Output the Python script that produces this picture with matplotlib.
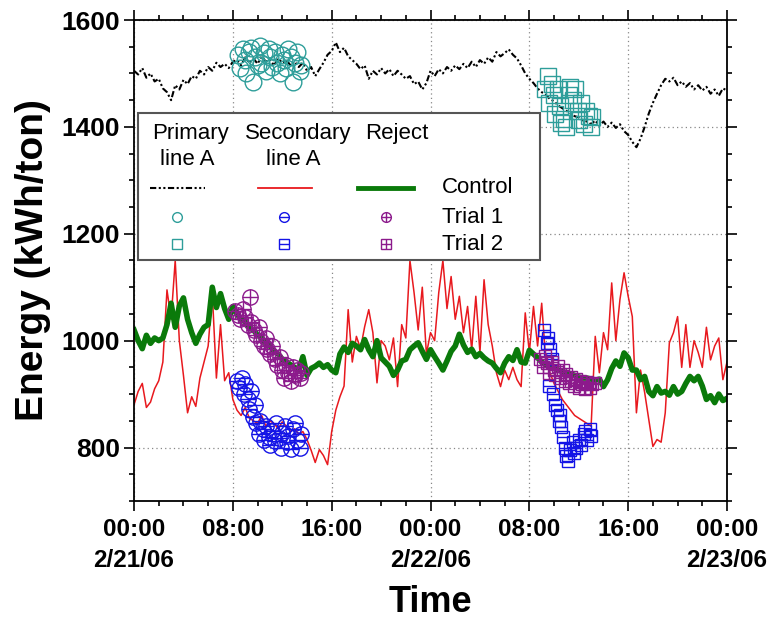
import numpy as np
import matplotlib.pyplot as plt
from matplotlib.patches import Rectangle
from matplotlib.ticker import MultipleLocator

# energy readings every 20 min, 2/21/06 00:00 -> 2/23/06 00:00 (kWh/ton)
primary = [
    1505, 1498, 1510, 1492, 1500, 1485, 1490, 1472, 1465, 1450, 1478, 1470,
    1488, 1480, 1495, 1490, 1505, 1498, 1512, 1505, 1520, 1512, 1518, 1510,
    1522, 1525, 1515, 1530, 1520, 1528, 1518, 1532, 1522, 1526, 1515, 1528,
    1520, 1525, 1515, 1522, 1512, 1520, 1505, 1512, 1495, 1508, 1520, 1535,
    1542, 1558, 1540, 1548, 1532, 1525, 1518, 1508, 1515, 1490, 1505, 1498,
    1510, 1500, 1508, 1495, 1505, 1498, 1490, 1495, 1480, 1485, 1470, 1482,
    1505, 1495, 1508, 1500, 1512, 1505, 1515, 1508, 1518, 1510, 1522, 1512,
    1525, 1518, 1530, 1522, 1540, 1532, 1538, 1545, 1535, 1528, 1515, 1500,
    1490, 1482, 1472, 1465, 1460, 1452, 1448, 1440, 1435, 1430, 1425, 1420,
    1418, 1412, 1410, 1405, 1412, 1402, 1410, 1400, 1408, 1398, 1405, 1392,
    1385, 1372, 1362, 1378, 1400, 1425, 1445, 1462, 1478, 1490, 1485, 1492,
    1478, 1485, 1475, 1482, 1470, 1478, 1468, 1475, 1462, 1470, 1458, 1472,
    1468,
]
secondary = [
    880, 905, 920, 875, 885, 910, 925, 960, 1095, 1040, 1150, 1000,
    935, 865, 895, 877, 930, 960, 990, 1090, 930, 1030, 925, 940,
    890, 870, 860, 875, 855, 850, 845, 860, 840, 850, 845, 835,
    848, 840, 830, 835, 825, 830, 815, 795, 772, 796, 785, 768,
    830, 870, 895, 915, 1058, 960, 1008, 985, 1026, 1058, 1015, 921,
    1000, 990, 964, 1005, 914, 1030, 1005, 1150, 1090, 1020, 1100, 975,
    1015, 1000, 1090, 1150, 1060, 1120, 1040, 1083, 1015, 1064, 983, 1083,
    978, 1114, 1030, 990, 940, 914, 945, 927, 950, 927, 914, 1052,
    978, 1064, 990, 1070, 960, 940, 920, 905, 890, 880, 870, 860,
    855, 850, 845, 840, 1008, 940, 1015, 983, 1108, 1000, 1077, 1127,
    1083, 1045, 865, 945, 903, 852, 802, 815, 810, 865, 996, 1015,
    1045, 950, 1030, 950, 1000, 978, 950, 1025, 964, 990, 1005, 927,
    960,
]
control = [
    1020, 1000, 985, 1010, 995, 1005, 1000, 1005, 1030, 1070, 1025, 1065,
    1080, 1040, 1015, 995, 1012, 1025, 1030, 1100, 1062, 1088, 1060, 1040,
    1064, 1050, 1040, 1035, 1025, 1020, 1010, 1005, 995, 990, 980, 975,
    965, 960, 955, 950, 945, 970, 935, 948, 952, 958, 950, 955,
    945, 940, 975, 988, 978, 995, 990, 983, 1002, 983, 970, 1000,
    968, 960, 952, 935, 945, 962, 965, 983, 990, 996, 980, 965,
    983, 970, 958, 945, 962, 980, 990, 1012, 992, 978, 984, 970,
    976, 968, 962, 958, 948, 940, 958, 970, 963, 983, 960, 958,
    982, 975, 968, 960, 955, 950, 948, 945, 942, 940, 938, 935,
    932, 930, 930, 928, 926, 928, 914, 927, 948, 962, 952, 977,
    968, 945, 945, 927, 933, 905, 897, 914, 902, 905, 898, 914,
    900, 905, 920, 933, 925, 933, 915, 890, 897, 884, 900, 888,
    892,
]
hours = np.arange(len(primary)) / 3.0

# trial samples (hours from start, kWh/ton)
prim_t1_h = [8.4, 8.6, 8.8, 9.0, 9.1, 9.3, 9.5, 9.6, 9.8, 10.0, 10.2, 10.3, 10.5, 10.7, 10.9,
             11.0, 11.2, 11.4, 11.6, 11.8, 12.0, 12.1, 12.3, 12.5, 12.7, 12.9, 13.0, 13.2, 13.4, 13.5]
prim_t1 = [1535, 1510, 1545, 1525, 1500, 1540, 1548, 1484, 1530, 1515, 1552, 1520, 1538, 1505, 1545,
           1530, 1512, 1540, 1520, 1500, 1535, 1525, 1510, 1545, 1530, 1484, 1520, 1540, 1505, 1515]
prim_t2_h = [33.3, 33.5, 33.6, 33.8, 34.0, 34.1, 34.3, 34.5, 34.6, 34.8, 35.0, 35.2, 35.3, 35.5,
             35.7, 35.9, 36.0, 36.2, 36.4, 36.6, 36.8, 37.0, 37.1]
prim_t2 = [1470, 1495, 1445, 1480, 1460, 1425, 1470, 1440, 1408, 1415, 1400, 1460, 1475, 1450,
           1470, 1430, 1412, 1445, 1405, 1430, 1420, 1400, 1418]
sec_t1_h = [8.3, 8.5, 8.7, 8.9, 9.0, 9.2, 9.3, 9.5, 9.6, 9.8, 9.9, 10.1, 10.2, 10.4, 10.5, 10.7, 10.9,
            11.0, 11.2, 11.4, 11.5, 11.7, 11.9, 12.0, 12.2, 12.4, 12.5, 12.7, 12.9, 13.0, 13.2, 13.4, 13.5]
sec_t1 = [925, 912, 930, 900, 918, 890, 872, 905, 858, 880, 845, 826, 850, 835, 815, 840, 820,
          805, 830, 812, 845, 818, 800, 828, 840, 810, 822, 798, 835, 845, 815, 800, 825]
sec_t2_h = [33.2, 33.4, 33.5, 33.7, 33.8, 33.6, 33.9, 34.1, 34.2, 34.4, 34.5, 34.6, 34.7, 34.9,
            35.0, 35.1, 35.3, 35.5, 35.6, 35.8, 36.0, 36.2, 36.4, 36.5, 36.7, 36.9, 37.0]
sec_t2 = [1020, 995, 1005, 985, 965, 915, 900, 880, 870, 850, 860, 838, 820, 800,
          785, 775, 795, 810, 790, 800, 815, 805, 825, 830, 815, 835, 822]
rej_t1_h = [8.2, 8.4, 8.6, 8.8, 9.0, 9.2, 9.4, 9.5, 9.7, 9.9, 10.1, 10.3, 10.5, 10.7, 10.8,
            11.0, 11.2, 11.4, 11.6, 11.8, 12.0, 12.1, 12.3, 12.5, 12.7, 12.9, 13.0, 13.2, 13.4, 13.5]
rej_t1 = [1055, 1048, 1040, 1060, 1045, 1030, 1082, 1035, 1020, 1010, 1025, 1000, 990, 1005, 985,
          975, 990, 965, 955, 970, 945, 930, 955, 940, 925, 950, 935, 945, 930, 940]
rej_t2_h = [32.9, 33.1, 33.3, 33.4, 33.6, 33.8, 34.0, 34.1, 34.3, 34.5, 34.7, 34.9, 35.0,
            35.2, 35.4, 35.6, 35.8, 36.0, 36.1, 36.3, 36.5, 36.7, 36.9, 37.1, 37.3]
rej_t2 = [965, 950, 972, 958, 940, 960, 945, 935, 952, 930, 945, 925, 938,
          920, 932, 915, 928, 912, 925, 918, 910, 922, 912, 918, 920]

tick_hours = [0, 8, 16, 24, 32, 40, 48]
tick_labels = ["00:00\n2/21/06", "08:00", "16:00", "00:00\n2/22/06", "08:00", "16:00", "00:00\n2/23/06"]

TEAL = "#2e9e9a"
BLUE = "#1414e6"
PURPLE = "#8c1a8c"
RED = "#e8191e"
GREEN = "#0a7a0a"
DASHDOT = (0, (3, 1.2, 1, 1.2, 1, 1.2))

plt.rcParams["font.family"] = ["Liberation Sans", "DejaVu Sans"]


def markers(ax, x, y, shape, inner, color, ms, mew=1.0, **kw):
    ax.plot(x, y, ls="none", marker=shape, ms=ms, mfc="none", mec=color, mew=mew, **kw)
    if inner:
        ax.plot(x, y, ls="none", marker=inner, ms=ms, color=color, mew=mew, **kw)


fig = plt.figure(figsize=(7.69, 6.27), dpi=100)
ax = fig.add_axes([0.1743, 0.2010, 0.7711, 0.7671])

ax.plot(hours, primary, color="black", lw=1.5, ls=DASHDOT)
ax.plot(hours, secondary, color=RED, lw=1.1)
ax.plot(hours, control, color=GREEN, lw=4)

markers(ax, prim_t1_h, prim_t1, "o", None, TEAL, 12)
markers(ax, prim_t2_h, prim_t2, "s", None, TEAL, 11)
markers(ax, sec_t1_h, sec_t1, "o", "_", BLUE, 11)
markers(ax, sec_t2_h, sec_t2, "s", "_", BLUE, 9)
markers(ax, rej_t1_h, rej_t1, "o", "+", PURPLE, 11)
markers(ax, rej_t2_h, rej_t2, "s", "+", PURPLE, 9)

ax.set_xlim(0, 48)
ax.set_ylim(700, 1600)
ax.set_xticks(tick_hours)
ax.set_xticklabels(tick_labels)
ax.xaxis.set_minor_locator(MultipleLocator(2))
ax.yaxis.set_major_locator(MultipleLocator(200))
ax.yaxis.set_minor_locator(MultipleLocator(50))
ax.tick_params(which="both", direction="out", top=True, right=True, width=1.2, pad=3)
ax.tick_params(which="major", length=7)
ax.tick_params(which="minor", length=3.5)
ax.grid(True, which="major", ls=(0, (1, 2.5)), color="#888888", lw=0.9)
for s in ax.spines.values():
    s.set_linewidth(1.3)
for lbl in ax.get_xticklabels():
    lbl.set_fontweight("bold")
    lbl.set_fontsize(17.5)
    lbl.set_linespacing(1.45)
for lbl in ax.get_yticklabels():
    lbl.set_fontweight("bold")
    lbl.set_fontsize(19)
ax.tick_params(axis="x", pad=5)

ax.set_ylabel("Energy (kWh/ton)", fontsize=28, fontweight="bold")
ax.yaxis.set_label_coords(-0.14, 0.5)
ax.set_xlabel("Time", fontsize=26, fontweight="bold")
ax.xaxis.set_label_coords(0.5, -0.175)

# legend drawn as a table: columns = stream, rows = condition
tr = ax.transAxes
ax.add_patch(Rectangle((0.0067, 0.501), 0.678, 0.306, transform=tr, facecolor="white",
                       edgecolor="#555555", lw=1.5, zorder=10))
fs = 16
for x, txt in [(0.096, "Primary"), (0.277, "Secondary"), (0.4435, "Reject")]:
    ax.text(x, 0.765, txt, transform=tr, ha="center", va="center", fontsize=fs, zorder=11)
for x in (0.089, 0.268):
    ax.text(x, 0.709, "line A", transform=tr, ha="center", va="center", fontsize=fs, zorder=11)
ax.plot([0.027, 0.120], [0.651, 0.651], transform=tr, color="black", lw=1.5, ls=DASHDOT, zorder=11)
ax.plot([0.209, 0.300], [0.651, 0.651], transform=tr, color=RED, lw=1.3, zorder=11)
ax.plot([0.378, 0.470], [0.651, 0.651], transform=tr, color=GREEN, lw=3.5, zorder=11)
for y, txt in [(0.651, "Control"), (0.590, "Trial 1"), (0.534, "Trial 2")]:
    ax.text(0.519, y, txt, transform=tr, ha="left", va="center", fontsize=fs, zorder=11)
markers(ax, [0.0725], [0.590], "o", None, TEAL, 7, transform=tr, zorder=11)
markers(ax, [0.0725], [0.534], "s", None, TEAL, 7, transform=tr, zorder=11)
markers(ax, [0.253], [0.590], "o", "_", BLUE, 7, transform=tr, zorder=11)
markers(ax, [0.253], [0.534], "s", "_", BLUE, 7, transform=tr, zorder=11)
markers(ax, [0.425], [0.590], "o", "+", PURPLE, 7, transform=tr, zorder=11)
markers(ax, [0.425], [0.534], "s", "+", PURPLE, 7, transform=tr, zorder=11)

fig.savefig("out.png", dpi=100)
